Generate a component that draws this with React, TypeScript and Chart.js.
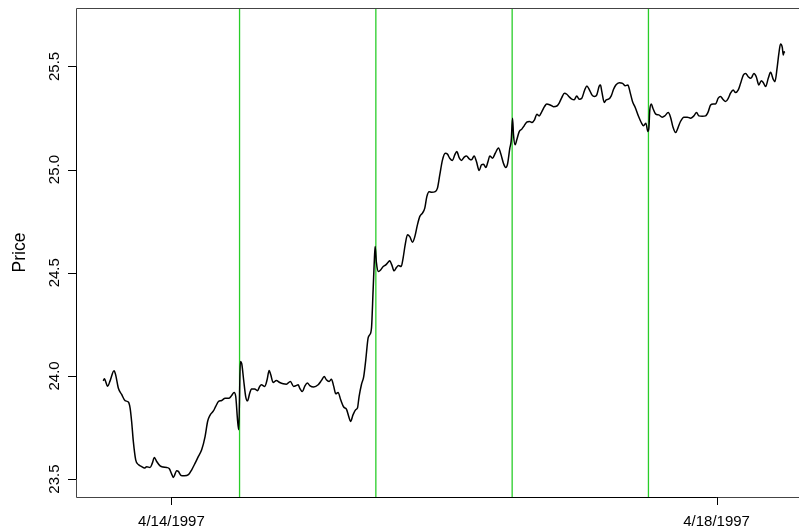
import React, { useEffect, useRef } from "react";
import { Chart, registerables } from "chart.js";

Chart.register(...registerables);

// Trading days shown on the x axis (one unit per session)
const sessionDates = ["4/14/1997", "4/15/1997", "4/16/1997", "4/17/1997", "4/18/1997"];
const labelledSessions = [0, 4];
const priceTicks = [23.5, 24.0, 24.5, 25.0, 25.5];
const sessionBreaks = [1, 2, 3, 4];

// Intraday prices: [fraction of session, price]
const mon: [number, number][] = [
  [0.0, 23.976], [0.008, 23.986], [0.032, 23.95], [0.05, 23.976], [0.079, 24.025],
  [0.091, 24.005], [0.111, 23.94], [0.135, 23.91], [0.16, 23.88], [0.184, 23.873],
  [0.197, 23.844], [0.208, 23.78], [0.221, 23.68], [0.238, 23.593], [0.258, 23.57],
  [0.282, 23.56], [0.302, 23.553], [0.319, 23.56], [0.343, 23.556], [0.36, 23.577],
  [0.375, 23.605], [0.392, 23.585], [0.417, 23.564], [0.441, 23.558], [0.465, 23.556],
  [0.485, 23.55], [0.502, 23.524], [0.514, 23.508], [0.539, 23.54], [0.551, 23.537],
  [0.571, 23.517], [0.595, 23.516], [0.625, 23.521], [0.649, 23.545], [0.674, 23.577],
  [0.698, 23.61], [0.722, 23.642], [0.747, 23.706], [0.766, 23.78], [0.784, 23.81],
  [0.808, 23.83], [0.825, 23.852], [0.845, 23.876], [0.869, 23.881], [0.894, 23.892],
  [0.923, 23.892], [0.942, 23.905], [0.96, 23.92], [0.972, 23.9], [0.986, 23.78],
  [0.994, 23.739],
];

const tue: [number, number][] = [
  [0.006, 24.07], [0.016, 24.059], [0.03, 23.98], [0.045, 23.9], [0.058, 23.879],
  [0.075, 23.917], [0.087, 23.936], [0.111, 23.937], [0.131, 23.928], [0.148, 23.949],
  [0.16, 23.957], [0.185, 23.949], [0.202, 23.981], [0.217, 24.026], [0.229, 24.005],
  [0.246, 23.968], [0.27, 23.978], [0.295, 23.968], [0.32, 23.962], [0.344, 23.96],
  [0.373, 23.973], [0.397, 23.949], [0.412, 23.952], [0.43, 23.957], [0.441, 23.941],
  [0.461, 23.924], [0.478, 23.949], [0.498, 23.965], [0.515, 23.953], [0.544, 23.946],
  [0.577, 23.957], [0.601, 23.978], [0.621, 23.997], [0.637, 23.981], [0.657, 23.973],
  [0.674, 23.984], [0.691, 23.949], [0.706, 23.913], [0.723, 23.92], [0.742, 23.884],
  [0.764, 23.849], [0.784, 23.839], [0.801, 23.803], [0.814, 23.779], [0.833, 23.812],
  [0.852, 23.836], [0.865, 23.844], [0.877, 23.9], [0.894, 23.957], [0.911, 23.997],
  [0.926, 24.078], [0.943, 24.183], [0.955, 24.199], [0.968, 24.232], [0.98, 24.417],
  [0.99, 24.578], [0.995, 24.627],
];

const wed: [number, number][] = [
  [0.004, 24.55], [0.019, 24.506], [0.036, 24.514], [0.054, 24.53], [0.073, 24.538],
  [0.09, 24.551], [0.102, 24.558], [0.117, 24.538], [0.134, 24.509], [0.151, 24.525],
  [0.166, 24.535], [0.186, 24.53], [0.2, 24.571], [0.215, 24.635], [0.232, 24.684],
  [0.249, 24.675], [0.269, 24.648], [0.286, 24.675], [0.305, 24.732], [0.322, 24.772],
  [0.342, 24.789], [0.359, 24.813], [0.374, 24.869], [0.391, 24.893], [0.41, 24.89],
  [0.435, 24.893], [0.452, 24.91], [0.469, 24.974], [0.489, 25.047], [0.509, 25.079],
  [0.525, 25.075], [0.542, 25.055], [0.562, 25.044], [0.579, 25.071], [0.594, 25.087],
  [0.611, 25.058], [0.628, 25.044], [0.648, 25.06], [0.665, 25.066], [0.685, 25.052],
  [0.702, 25.047], [0.721, 25.066], [0.738, 25.039], [0.758, 24.995], [0.775, 25.023],
  [0.79, 25.026], [0.807, 25.01], [0.824, 25.042], [0.836, 25.066], [0.856, 25.055],
  [0.876, 25.079], [0.9, 25.104], [0.917, 25.075], [0.936, 25.031], [0.953, 25.01],
  [0.966, 25.026], [0.983, 25.104], [0.993, 25.139],
];

const thu: [number, number][] = [
  [0.003, 25.249], [0.01, 25.168], [0.022, 25.12], [0.034, 25.144], [0.052, 25.184],
  [0.071, 25.196], [0.088, 25.212], [0.107, 25.23], [0.127, 25.233], [0.144, 25.228],
  [0.164, 25.241], [0.181, 25.268], [0.198, 25.26], [0.218, 25.281], [0.237, 25.305],
  [0.254, 25.318], [0.279, 25.313], [0.303, 25.305], [0.328, 25.308], [0.345, 25.322],
  [0.364, 25.349], [0.384, 25.37], [0.401, 25.365], [0.421, 25.351], [0.438, 25.341],
  [0.455, 25.338], [0.474, 25.357], [0.492, 25.341], [0.511, 25.346], [0.531, 25.383],
  [0.548, 25.405], [0.565, 25.389], [0.585, 25.362], [0.604, 25.354], [0.621, 25.362],
  [0.639, 25.405], [0.648, 25.41], [0.658, 25.378], [0.676, 25.325], [0.69, 25.338],
  [0.707, 25.341], [0.727, 25.357], [0.744, 25.389], [0.761, 25.41], [0.786, 25.421],
  [0.81, 25.418], [0.83, 25.406], [0.849, 25.41], [0.866, 25.373], [0.883, 25.33],
  [0.903, 25.301], [0.927, 25.258], [0.947, 25.228], [0.964, 25.212], [0.981, 25.225],
  [0.996, 25.185],
];

const fri: [number, number][] = [
  [0.003, 25.2], [0.01, 25.289], [0.021, 25.318], [0.032, 25.298], [0.052, 25.27],
  [0.076, 25.265], [0.101, 25.254], [0.12, 25.26], [0.145, 25.276], [0.162, 25.254],
  [0.179, 25.208], [0.199, 25.179], [0.216, 25.201], [0.235, 25.233], [0.26, 25.254],
  [0.285, 25.254], [0.309, 25.249], [0.333, 25.26], [0.353, 25.276], [0.37, 25.26],
  [0.395, 25.258], [0.419, 25.26], [0.439, 25.281], [0.456, 25.313], [0.475, 25.318],
  [0.492, 25.318], [0.512, 25.346], [0.529, 25.354], [0.546, 25.341], [0.566, 25.33],
  [0.586, 25.346], [0.602, 25.37], [0.622, 25.386], [0.639, 25.373], [0.659, 25.386],
  [0.676, 25.418], [0.696, 25.458], [0.713, 25.466], [0.732, 25.45], [0.752, 25.442],
  [0.774, 25.466], [0.791, 25.45], [0.81, 25.41], [0.828, 25.431], [0.843, 25.421],
  [0.86, 25.402], [0.879, 25.442], [0.896, 25.471], [0.916, 25.437], [0.928, 25.426],
  [0.945, 25.498], [0.957, 25.563], [0.969, 25.608], [0.982, 25.592], [0.989, 25.555],
  [0.996, 25.571], [0.999, 25.566],
];

const sessions = [mon, tue, wed, thu, fri];

const FAMILY = '"Liberation Sans", Arial, Helvetica, sans-serif';
const TICK_FONT = `15px ${FAMILY}`;
const TITLE_FONT = `17.5px ${FAMILY}`;

// Base-graphics style frame: box, outward ticks, rotated y labels, session dividers
const framePlugin = {
  id: "frame",
  beforeDatasetsDraw(chart: any) {
    const { ctx, chartArea, scales } = chart;
    ctx.save();
    ctx.strokeStyle = "rgb(40,205,40)";
    ctx.lineWidth = 1.3;
    for (const b of sessionBreaks) {
      const x = scales.x.getPixelForValue(b);
      ctx.beginPath();
      ctx.moveTo(x, chartArea.top);
      ctx.lineTo(x, chartArea.bottom);
      ctx.stroke();
    }
    ctx.restore();
  },
  afterDraw(chart: any) {
    const { ctx, chartArea, scales } = chart;
    const { left, right, top, bottom } = chartArea;
    const xs = scales.x;
    const ys = scales.y;
    ctx.save();

    // box
    ctx.strokeStyle = "#444";
    ctx.lineWidth = 1;
    ctx.beginPath();
    ctx.moveTo(left + 0.5, bottom + 0.5);
    ctx.lineTo(left + 0.5, top + 0.5);
    ctx.lineTo(right - 0.5, top + 0.5);
    ctx.lineTo(right - 0.5, bottom + 0.5);
    ctx.closePath();
    ctx.stroke();

    ctx.strokeStyle = "#000";
    ctx.fillStyle = "#000";
    ctx.font = TICK_FONT;

    // x axis
    const xTickPos = labelledSessions.map((i) => xs.getPixelForValue(i + 0.5));
    ctx.beginPath();
    ctx.moveTo(xTickPos[0], bottom + 0.5);
    ctx.lineTo(xTickPos[xTickPos.length - 1], bottom + 0.5);
    ctx.stroke();
    ctx.textAlign = "center";
    ctx.textBaseline = "alphabetic";
    labelledSessions.forEach((i, k) => {
      const x = Math.round(xTickPos[k]) + 0.5;
      ctx.beginPath();
      ctx.moveTo(x, bottom);
      ctx.lineTo(x, bottom + 8);
      ctx.stroke();
      ctx.fillText(sessionDates[i], xTickPos[k], bottom + 29);
    });

    // y axis
    const yTop = ys.getPixelForValue(priceTicks[priceTicks.length - 1]);
    const yBot = ys.getPixelForValue(priceTicks[0]);
    ctx.beginPath();
    ctx.moveTo(left + 0.5, yTop);
    ctx.lineTo(left + 0.5, yBot);
    ctx.stroke();
    for (const v of priceTicks) {
      const y = Math.round(ys.getPixelForValue(v)) + 0.5;
      ctx.beginPath();
      ctx.moveTo(left - 8, y);
      ctx.lineTo(left, y);
      ctx.stroke();
      ctx.save();
      ctx.translate(left - 17.5, ys.getPixelForValue(v));
      ctx.rotate(-Math.PI / 2);
      ctx.textAlign = "center";
      ctx.textBaseline = "alphabetic";
      ctx.fillText(v.toFixed(1), 0, 0);
      ctx.restore();
    }

    // axis title
    ctx.save();
    ctx.font = TITLE_FONT;
    ctx.translate(25, (top + bottom) / 2);
    ctx.rotate(-Math.PI / 2);
    ctx.textAlign = "center";
    ctx.textBaseline = "alphabetic";
    ctx.fillText("Price", 0, 0);
    ctx.restore();

    ctx.restore();
  },
};

export default function App() {
  const canvasRef = useRef<HTMLCanvasElement | null>(null);

  useEffect(() => {
    const canvas = canvasRef.current;
    if (!canvas) return;
    const points = sessions.flatMap((day, i) => day.map(([t, p]) => ({ x: i + t, y: p })));
    const chart = new Chart(canvas, {
      type: "line",
      data: {
        datasets: [
          {
            data: points,
            borderColor: "#000",
            borderWidth: 1.5,
            pointRadius: 0,
            fill: false,
            cubicInterpolationMode: "monotone",
          },
        ],
      },
      options: {
        animation: false,
        responsive: false,
        devicePixelRatio: 1,
        layout: { padding: { left: 76, top: 8, right: 0, bottom: 33 } },
        plugins: { legend: { display: false }, tooltip: { enabled: false } },
        scales: {
          x: { type: "linear", min: -0.2, max: 5.2, display: false },
          y: { type: "linear", min: 23.413, max: 25.783, display: false },
        },
      },
      plugins: [framePlugin],
    });
    return () => chart.destroy();
  }, []);

  return (
    <div
      style={{
        position: "fixed",
        left: 0,
        top: 0,
        width: 799,
        height: 530,
        overflow: "hidden",
        background: "#fff",
      }}
    >
      <canvas ref={canvasRef} width={812} height={530} style={{ display: "block" }} />
    </div>
  );
}
